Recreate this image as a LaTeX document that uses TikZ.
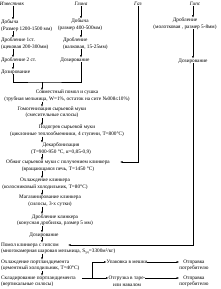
\documentclass[tikz,border=0pt]{standalone}
\usepackage{fontspec}
\setmainfont{Liberation Serif}
\usetikzlibrary{arrows.meta,positioning,calc}

\begin{document}
\begin{tikzpicture}[x=2pt, y=-2pt, font=\fontsize{10.5}{13}\selectfont,
  txt/.style={inner sep=0pt, align=center},
  ltxt/.style={inner sep=0pt, align=left, anchor=west},
  head/.style={inner sep=0pt, font=\fontsize{10.5}{13}\selectfont\itshape},
  arr/.style={-{Latex[length=5pt,width=3.5pt]}, line width=0.7pt},
  ln/.style={line width=0.7pt}]
\useasboundingbox (0,0) rectangle (220,289);
% sources
\node[head] (izv) at (12,4) {Известняк};
\node[head] (gli) at (81,4) {Глина};
\node[head] (gaz) at (138,4) {Газ};
\node[head] (gips) at (195,4) {Гипс};
\coordinate (c1) at (13,0);
\coordinate (c2) at (81,0);
\coordinate (c4) at (193,0);
\coordinate (c0) at (42,0);
% limestone
\node[ltxt] (dob1) at (1,25.5) {Добыча\\(Размер 1200-1500 мм)};
\node[ltxt] (drob1) at (1,43.5) {Дробление 1ст.\\(щековая 200-300мм)};
\node[ltxt] (drob2) at (1,60) {Дробление 2 ст.};
\node[ltxt] (doz1) at (1,72) {Дозирование};
% clay
\node[txt] (dob2) at (80,24.5) {Добыча\\(размер 400-500мм)};
\node[ltxt] (drob3) at (63,43.5) {Дробление\\(валковая, 15-25мм)};
\node[txt] (doz2) at (75,60) {Дозирование};
% gypsum
\node[txt] (drob4) at (185,23.5) {Дробление\\(молотковая , размер 5-8мм)};
\node[txt] (doz4) at (193,61) {Дозирование};
% main line
\node[txt] (sov) at (67,96) {Совместный помол и сушка\\(трубная мельница, W=1\%, остаток на сите №008≤10\%)};
\node[txt] (gom) at (52,112.5) {Гомогенизация сырьевой муки\\(смесительные силосы)};
\node[txt] (pod) at (67,131) {Подогрев сырьевой муки\\(циклонные теплообменники, 4 ступени, T=800°C)};
\node[txt] (dek) at (61,148.5) {Декарбонизация\\(T=900-950 °C, α=0,85-0,9)};
\node[txt] (obzh) at (58,165.5) {Обжиг сырьевой муки с получением клинкера\\(вращающаяся печь, T=1450 °C)};
\node[txt] (ohl) at (45,184) {Охлаждение клинкера\\(колосниковый холодильник, T=80°C)};
\node[txt] (mag) at (50,201) {Магазинирование клинкера\\(силосы, 3-х сутки)};
\node[txt] (drk) at (55,220) {Дробление клинкера\\(конусная дробилка, размер 5 мм)};
\node[txt] (doz) at (44,235) {Дозирование};
\node[ltxt] (pom) at (1,248.5) {Помол клинкера с гипсом\\(многокамерная шаровая мельница, S\textsubscript{уд}=3300м²/кг)};
\node[ltxt] (ohc) at (1,265.5) {Охлаждение портландцемента\\(цементный холодильник, T=40°C)};
\node[ltxt] (skl) at (1,281.5) {Складирование портландцемента\\(вертикальные силосы)};
% shipping
\node[txt] (upak) at (127,262) {Упаковка в мешки};
\node[txt] (otp1) at (194,265.5) {Отправка\\потребителю};
\node[txt] (otg) at (127,281.5) {Отгрузка в таре-\\или навалом};
\node[txt] (otp2) at (194,281.5) {Отправка\\потребителю};
\coordinate (mix) at (42,82);
\coordinate (gasend) at (120,162);
\coordinate (gipsend) at (68,245);
\coordinate (br) at (92,278);
% connectors
\draw[arr] (izv.south -| c1) -- (dob1.north -| c1);
\draw[arr] (dob1.south -| c1) -- (drob1.north -| c1);
\draw[arr] (drob1.south -| c1) -- (drob2.north -| c1);
\draw[arr] (drob2.south -| c1) -- (doz1.north -| c1);
\draw[arr] (gli.south -| c2) -- (dob2.north -| c2);
\draw[arr] (dob2.south -| c2) -- (drob3.north -| c2);
\draw[arr] (drob3.south -| c2) -- (doz2.north -| c2);
\draw[arr] (gips.south -| c4) -- (drob4.north -| c4);
\draw[arr] (drob4.south -| c4) -- (doz4.north -| c4);
\draw[ln] (doz1.south -| c1) |- (mix) -| (doz2.south -| c2);
\draw[arr] (mix) -- (sov.north -| c0);
\foreach \a/\b in {sov/gom,gom/pod,pod/dek,dek/obzh,obzh/ohl,ohl/mag,mag/drk,drk/doz,doz/pom,pom/ohc,ohc/skl}
  \draw[arr] (\a.south -| c0) -- (\b.north -| c0);
\draw[arr] (gaz.south) |- (gasend);
\draw[arr] (doz4.south -| c4) |- (gipsend);
\draw[arr] ([xshift=12pt,yshift=7pt]skl.east) -- ([yshift=7pt]otg.west);
\draw[arr] (br) |- (upak.west);
\draw[arr] (upak.east) -- (upak.east -| otp1.west);
\draw[arr] ([yshift=7pt]otg.east) -- ([yshift=7pt]otg.east -| otp2.west);
\end{tikzpicture}
\end{document}
